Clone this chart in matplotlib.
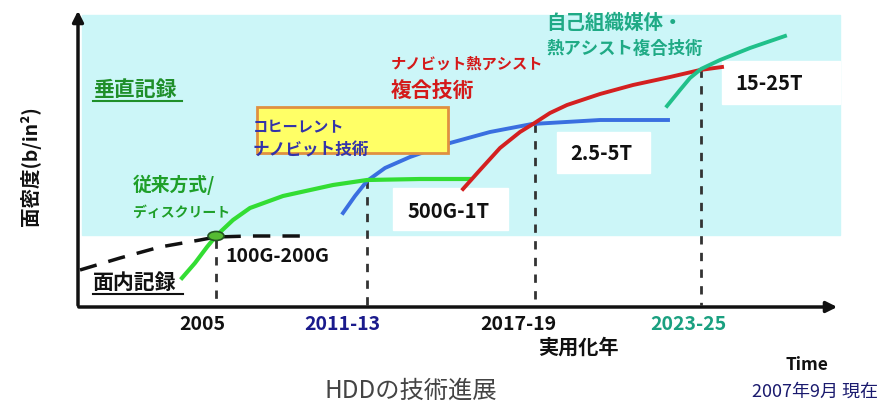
import matplotlib
matplotlib.use("Agg")
import matplotlib.pyplot as plt
from matplotlib.patches import Rectangle, Ellipse

plt.rcParams['font.family'] = ['Noto Sans CJK JP', 'DejaVu Sans']

# Data (conceptual chart: x = time position, y = areal density position, screen-like units)
dash_x = [80, 120, 160, 200, 216, 250, 305]
dash_y = [270, 258, 247, 240, 237, 236, 236]

green_x = [182, 195, 207, 216, 233, 250, 283, 333, 367, 420, 470]
green_y = [278, 263, 247, 236, 220, 208, 196, 185, 180, 179, 179]

blue_x = [343, 355, 367, 385, 410, 450, 490, 532, 600, 668]
blue_y = [213, 196, 181, 168, 157, 143, 132, 124, 120, 120]

red_x = [463, 480, 500, 520, 533, 550, 567, 600, 633, 670, 700, 722]
red_y = [189, 170, 148, 132, 124, 113, 105, 94, 85, 77, 70, 67]

teal_x = [667, 680, 690, 701, 720, 750, 785]
teal_y = [106, 90, 78, 69, 60, 48, 36]

vline_x = [216, 367, 535, 701]
vline_top = [240, 180, 124, 69]

tick_x = [202, 342, 518, 688]
tick_labels = ["2005", "2011-13", "2017-19", "2023-25"]
tick_colors = ["#111111", "#1a1a8c", "#111111", "#1aa080"]

fig = plt.figure(figsize=(8.9, 4.04), dpi=100)
ax = fig.add_axes([0, 0, 1, 1])
ax.set_xlim(0, 890)
ax.set_ylim(404, 0)
ax.axis("off")

# background regions
ax.add_patch(Rectangle((82, 15), 758, 220, color="#ccf6f8", zorder=0))
for bx, by, bw, bh in [(393, 188, 115, 42), (557, 132, 93, 41), (722, 61, 118, 43)]:
    ax.add_patch(Rectangle((bx, by), bw, bh, color="white", zorder=0.5))

# axes arrows
ax.annotate("", xy=(78, 8), xytext=(78, 308),
            arrowprops=dict(arrowstyle="-|>", lw=2.5, color="#111111", mutation_scale=16))
ax.annotate("", xy=(840, 307), xytext=(76, 307),
            arrowprops=dict(arrowstyle="-|>", lw=2.5, color="#111111", mutation_scale=16))

# vertical dashed markers
for x, top in zip(vline_x, vline_top):
    ax.plot([x, x], [top, 305], color="#333333", lw=2, ls=(0, (3, 3)), zorder=2)

# curves
ax.plot(dash_x, dash_y, color="#111111", lw=2.5, ls=(0, (5, 3.5)), zorder=3)
ax.plot(blue_x, blue_y, color="#3a6fe0", lw=2.8, zorder=3)
ax.plot(green_x, green_y, color="#33dd33", lw=3, zorder=3)
ax.plot(red_x, red_y, color="#d42020", lw=2.8, zorder=3)
ax.plot(teal_x, teal_y, color="#20c08a", lw=2.8, zorder=3)
ax.add_patch(Ellipse((216, 236), 16, 9, facecolor="#55bb33", edgecolor="#225522", lw=1.2, zorder=4))

# yellow box
ax.add_patch(Rectangle((257, 107), 191, 46, facecolor="#ffff66", edgecolor="#e09040", lw=2, zorder=4))

bold = dict(fontweight="bold", zorder=5)
ax.text(93, 89, "垂直記録", color="#1f8f2a", fontsize=15, va="center", **bold)
ax.plot([93, 182], [101, 101], color="#1f8f2a", lw=1.5)
ax.text(93, 282, "面内記録", color="#111111", fontsize=15, va="center", **bold)
ax.plot([93, 183], [294, 294], color="#111111", lw=1.5)

ax.text(133, 185, "従来方式/", color="#1f9f2a", fontsize=13.5, va="center", **bold)
ax.text(133, 213, "ディスクリート", color="#1f9f2a", fontsize=10, va="center", **bold)
ax.text(253, 127, "コヒーレント", color="#3333aa", fontsize=11, va="center", **bold)
ax.text(253, 150, "ナノビット技術", color="#3333aa", fontsize=12, va="center", **bold)
ax.text(391, 64, "ナノビット熱アシスト", color="#d41a1a", fontsize=11, va="center", **bold)
ax.text(391, 90, "複合技術", color="#d41a1a", fontsize=15, va="center", **bold)
ax.text(546, 23, "自己組織媒体・", color="#1faa85", fontsize=14, va="center", **bold)
ax.text(546, 49, "熱アシスト複合技術", color="#1faa85", fontsize=12.5, va="center", **bold)

ax.text(225, 257, "100G-200G", color="#111111", fontsize=14, va="center", **bold)
ax.text(408, 212, "500G-1T", color="#111111", fontsize=14.5, va="center", **bold)
ax.text(570, 153, "2.5-5T", color="#111111", fontsize=14.5, va="center", **bold)
ax.text(735, 83, "15-25T", color="#111111", fontsize=14.5, va="center", **bold)

for x, lab, c in zip(tick_x, tick_labels, tick_colors):
    ax.text(x, 325, lab, color=c, fontsize=14, ha="center", va="center", **bold)
ax.text(578, 347, "実用化年", color="#111111", fontsize=14.5, ha="center", va="center", **bold)
ax.text(807, 365, "Time", color="#111111", fontsize=12.5, ha="center", va="center", **bold)
ax.text(815, 392, "2007年9月 現在", color="#1a1a6e", fontsize=13, ha="center", va="center")
ax.text(411, 391, "HDDの技術進展", color="#444444", fontsize=17.5, ha="center", va="center")

ax.text(30, 166, "面密度(b/in²)", color="#111111", fontsize=14, rotation=90,
        ha="center", va="center", **bold)

fig.savefig("out.png", dpi=100)
